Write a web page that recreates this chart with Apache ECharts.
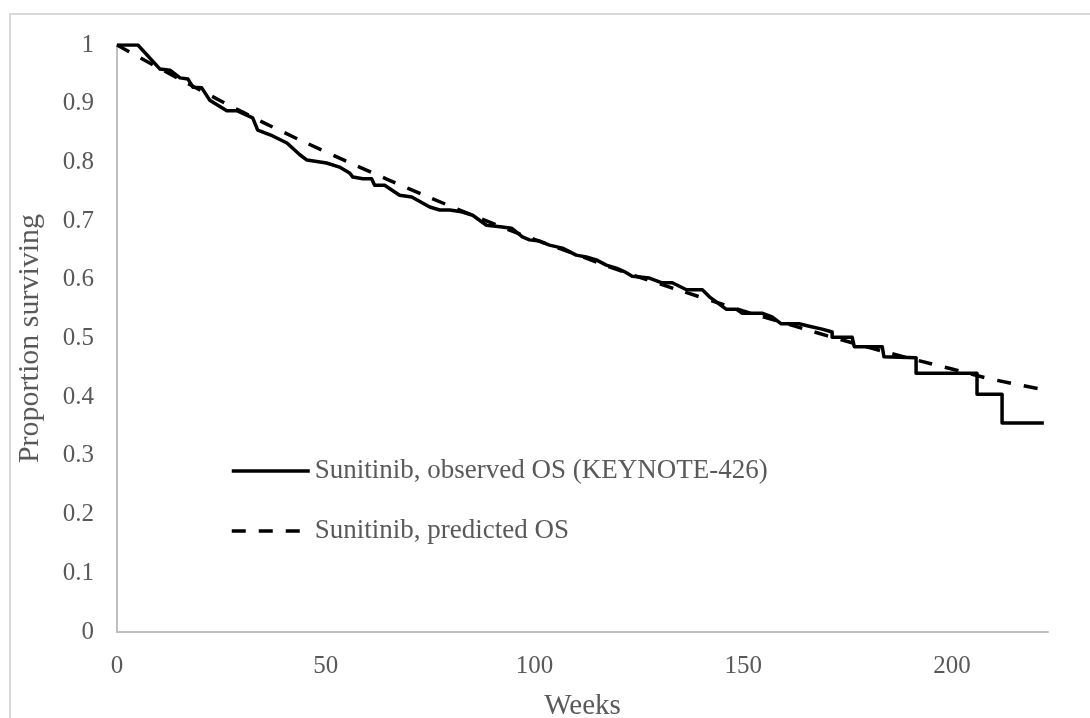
<!DOCTYPE html>
<html>
<head>
<meta charset="utf-8">
<script src="https://cdn.jsdelivr.net/npm/echarts@6/dist/echarts.min.js"></script>
<style>
  html, body { margin: 0; padding: 0; background: #fff; }
  #chart { width: 1090px; height: 718px; }
</style>
</head>
<body>
<div id="chart"></div>
<script>
// Kaplan-Meier observed overall survival (weeks, proportion surviving)
const obsWeeks = [0, 5.0, 10.3, 12.7, 15.1, 17.0, 18.2, 20.3, 22.2, 26.3, 28.7, 32.5, 33.7, 37.3, 40.7, 43.8, 45.5,
  50.2, 53.3, 55.7, 56.5, 58.9, 61.0, 61.7, 64.1, 67.7, 70.6, 74.9, 77.3, 79.7, 82.5, 85.2, 88.5, 92.3, 94.5,
  97.1, 98.8, 101.2, 103.6, 106.7, 110.0, 112.4, 114.8, 117.2, 119.6, 121.5, 123.4, 127.5, 130.4, 133.0, 136.4,
  140.2, 141.9, 145.9, 148.3, 149.8, 154.5, 156.9, 159.1, 163.4, 165.8, 168.9, 171.3, 171.3, 176.1, 176.6,
  183.3, 183.7, 191.4, 191.4, 206.0, 206.0, 212.0, 212.0, 222.0];
const obsSurv = [1, 1, 0.959, 0.957, 0.944, 0.942, 0.928, 0.927, 0.906, 0.888, 0.888, 0.876, 0.855, 0.845, 0.833, 0.813, 0.804,
  0.799, 0.792, 0.782, 0.775, 0.772, 0.772, 0.761, 0.761, 0.744, 0.741, 0.724, 0.719, 0.719, 0.716, 0.710, 0.693, 0.690, 0.688,
  0.673, 0.668, 0.666, 0.659, 0.654, 0.642, 0.639, 0.634, 0.625, 0.620, 0.614, 0.606, 0.603, 0.595, 0.595, 0.583,
  0.583, 0.571, 0.550, 0.550, 0.543, 0.543, 0.537, 0.525, 0.525, 0.521, 0.516, 0.511, 0.502, 0.502, 0.486,
  0.486, 0.469, 0.467, 0.441, 0.441, 0.405, 0.405, 0.356, 0.356];

// Predicted overall survival
const predWeeks = [0, 10, 20, 30, 40, 50, 60, 70, 80, 90, 100, 110, 120, 130, 140, 150, 160, 170, 180, 190, 200, 210, 222];
const predSurv = [1, 0.961, 0.923, 0.886, 0.851, 0.818, 0.786, 0.755, 0.725, 0.696, 0.669, 0.643, 0.617, 0.593, 0.570,
  0.547, 0.526, 0.505, 0.485, 0.466, 0.448, 0.430, 0.413];

const seriesNames = ['Sunitinib, observed OS (KEYNOTE-426)', 'Sunitinib, predicted OS'];
const xTitle = 'Weeks';
const yTitle = 'Proportion surviving';

const pairs = (xs, ys) => xs.map((x, i) => [x, ys[i]]);

const font = '"Liberation Serif", "Times New Roman", serif';
const grey = '#595959';

const chart = echarts.init(document.getElementById('chart'), null, { renderer: 'canvas' });
chart.setOption({
  animation: false,
  backgroundColor: '#fff',
  graphic: [{
    type: 'rect', z: -10, silent: true,
    shape: { x: 10, y: 14, width: 1200, height: 800 },
    style: { fill: 'none', stroke: '#d9d9d9', lineWidth: 2 }
  }],
  grid: { left: 117, top: 45, right: 42, bottom: 86, containLabel: false, outerBoundsMode: 'none' },
  legend: {
    orient: 'vertical', left: 225, top: 451,
    itemWidth: 78, itemHeight: 30, itemGap: 30,
    itemStyle: { opacity: 0 },
    lineStyle: { width: 3.5 },
    textStyle: { fontFamily: font, fontSize: 27, color: grey, lineHeight: 30 },
    data: seriesNames
  },
  xAxis: {
    type: 'value', min: 0, max: 223, interval: 50,
    name: xTitle, nameLocation: 'middle', nameGap: 60,
    nameTextStyle: { fontFamily: font, fontSize: 29, color: grey },
    axisLine: { show: true, lineStyle: { color: '#bfbfbf', width: 2 } },
    axisTick: { show: false },
    splitLine: { show: false },
    axisLabel: { fontFamily: font, fontSize: 25, color: grey, margin: 22, showMaxLabel: false }
  },
  yAxis: {
    type: 'value', min: 0, max: 1, interval: 0.1,
    name: yTitle, nameLocation: 'middle', nameGap: 72,
    nameTextStyle: { fontFamily: font, fontSize: 30, color: grey },
    axisLine: { show: true, lineStyle: { color: '#bfbfbf', width: 2 } },
    axisTick: { show: false },
    splitLine: { show: false },
    axisLabel: {
      fontFamily: font, fontSize: 25, color: grey, margin: 23,
      formatter: v => String(Number(v.toFixed(1)))
    }
  },
  series: [
    {
      name: seriesNames[0], type: 'line', symbol: 'none',
      data: pairs(obsWeeks, obsSurv),
      lineStyle: { color: '#000', width: 3.5, join: 'round' },
      itemStyle: { color: '#000' }
    },
    {
      name: seriesNames[1], type: 'line', symbol: 'none', smooth: true,
      data: pairs(predWeeks, predSurv),
      lineStyle: { color: '#000', width: 3.5, type: [14, 13], cap: 'butt' },
      itemStyle: { color: '#000' }
    }
  ]
});
</script>
</body>
</html>
